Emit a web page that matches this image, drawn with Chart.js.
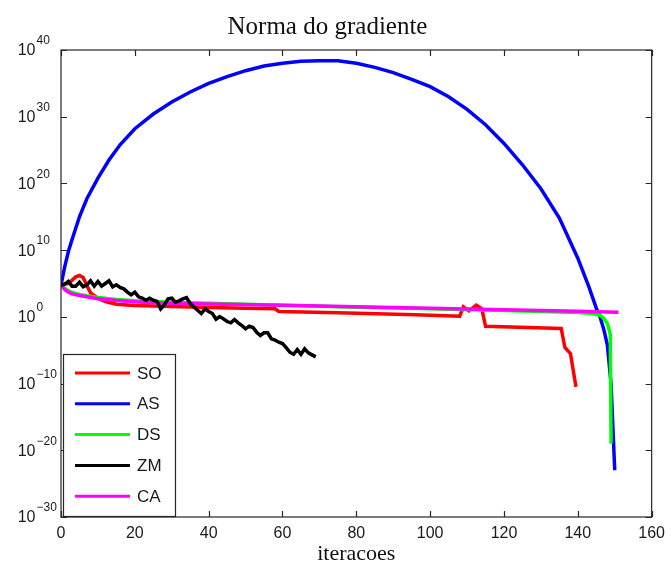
<!DOCTYPE html>
<html lang="pt">
<head>
    <meta charset="UTF-8">
    <title>Norma do gradiente</title>
    <script src="https://cdn.jsdelivr.net/npm/chart.js@4.4.1/dist/chart.umd.min.js"></script>
    <style>
        body { margin: 0; background: #fff; }
        canvas { display: block; }
    </style>
</head>
<body>
    <canvas id="grad" width="672" height="568"></canvas>

    <script>
        // valores: iteracao e expoente (log10 da norma)
        const soIter = [0, 2, 4, 5, 6, 7, 8, 10, 12, 15, 20, 30, 40, 50, 58, 59, 75, 96, 108, 109, 110.5, 112.5, 114, 115, 135.5, 136.5, 138, 139.5];
        const soExp  = [4.75, 5.0, 6.0, 6.2, 5.9, 4.7, 3.6, 2.8, 2.3, 1.9, 1.7, 1.55, 1.4, 1.3, 1.2, 0.8, 0.6, 0.3, 0.1, 1.5, 0.9, 1.75, 1.2, -1.4, -1.75, -4.6, -5.5, -10.5];

        const asIter = [0, 1, 2, 3, 5, 7, 10, 13, 16, 20, 25, 30, 35, 40, 45, 50, 55, 60, 65, 70, 75, 80, 85, 90, 95, 100, 105, 110, 115, 120, 125, 130, 135, 140, 143, 145, 146, 147, 148, 149, 150];
        const asExp  = [4.75, 7.5, 9.8, 11.6, 15, 17.7, 20.8, 23.5, 25.8, 28.2, 30.4, 32.2, 33.7, 35, 36, 36.9, 37.6, 38, 38.3, 38.4, 38.4, 38, 37.4, 36.6, 35.6, 34.5, 33, 31.1, 28.8, 26, 22.8, 19.2, 14.8, 8.8, 4.5, 1.3, 0, -1.8, -4.2, -10, -23];

        const dsIter = [0, 1, 2, 3, 5, 7, 10, 15, 20, 30, 40, 60, 80, 100, 120, 140, 144, 146, 147, 148, 148.8, 149];
        const dsExp  = [4.75, 4.3, 3.9, 3.65, 3.35, 3.15, 2.9, 2.6, 2.4, 2.2, 2.05, 1.75, 1.45, 1.2, 0.95, 0.65, 0.5, 0.25, -0.2, -1.0, -2.6, -19];

        // ZM: uma entrada por iteracao (0..69)
        const zmExp = [4.75, 4.9, 5.3, 4.6, 4.6, 5.2, 4.5, 4.8, 5.4, 4.6,
                       5.3, 4.6, 5.0, 5.4, 4.5, 4.8, 4.4, 4.2, 3.7, 3.3,
                       3.7, 3.0, 2.8, 2.5, 2.8, 2.5, 2.3, 1.2, 1.8, 2.7,
                       2.8, 2.2, 2.4, 2.7, 2.9, 2.0, 1.5, 1.0, 0.5, 1.2,
                       0.8, 0.5, -0.35, 0.05, -0.3, -0.7, -0.9, -0.4, -0.9, -1.3,
                       -1.8, -1.4, -1.6, -2.3, -2.8, -2.4, -2.4, -3.3, -3.5, -3.8,
                       -4.0, -4.6, -5.3, -5.6, -4.9, -5.6, -4.8, -5.4, -5.7, -6.0];

        const caIter = [0, 1, 2, 3, 5, 7, 10, 15, 20, 25, 30, 40, 60, 80, 100, 120, 140, 151];
        const caExp  = [4.75, 4.1, 3.7, 3.45, 3.2, 3.0, 2.7, 2.45, 2.25, 2.1, 2.05, 1.92, 1.75, 1.5, 1.3, 1.05, 0.85, 0.7];

        const xTicks = [0, 20, 40, 60, 80, 100, 120, 140, 160];
        const yExps = [-30, -20, -10, 0, 10, 20, 30, 40];

        const axisFont = '"Liberation Sans", Arial, sans-serif';
        const serifFont = '"Liberation Serif", "Times New Roman", serif';

        function pts(xs, exps) {
            return exps.map((e, i) => ({ x: xs[i], y: Math.pow(10, e) }));
        }

        function serie(label, color, data, order) {
            return {
                label: label,
                data: data,
                borderColor: color,
                backgroundColor: color,
                borderWidth: 3.5,
                pointRadius: 0,
                tension: 0,
                fill: false,
                order: order
            };
        }

        // caixa, marcas internas, rotulos 10^n e legenda
        const matlabAxes = {
            id: 'matlabAxes',
            afterDatasetsDraw(chart) {
                const ctx = chart.ctx;
                const a = chart.chartArea;
                const xs = chart.scales.x, ys = chart.scales.y;
                ctx.save();
                ctx.strokeStyle = '#262626';
                ctx.lineWidth = 1.2;
                ctx.strokeRect(a.left, a.top, a.right - a.left, a.bottom - a.top);

                ctx.beginPath();
                xTicks.forEach(t => {
                    const px = Math.round(xs.getPixelForValue(t)) + 0.5;
                    ctx.moveTo(px, a.bottom); ctx.lineTo(px, a.bottom - 6);
                    ctx.moveTo(px, a.top); ctx.lineTo(px, a.top + 6);
                });
                yExps.forEach(e => {
                    const py = Math.round(ys.getPixelForValue(Math.pow(10, e))) + 0.5;
                    ctx.moveTo(a.left, py); ctx.lineTo(a.left + 6, py);
                    ctx.moveTo(a.right, py); ctx.lineTo(a.right - 6, py);
                });
                ctx.stroke();

                ctx.fillStyle = '#1a1a1a';
                yExps.forEach(e => {
                    const py = ys.getPixelForValue(Math.pow(10, e));
                    ctx.font = '16px ' + axisFont;
                    ctx.textAlign = 'right';
                    ctx.textBaseline = 'middle';
                    ctx.fillText('10', 35.5, py + 1);
                    ctx.font = '12px ' + axisFont;
                    ctx.textAlign = 'left';
                    ctx.fillText(e < 0 ? '\u2212' + Math.abs(e) : String(e), 36.5, py - 9);
                });

                // legenda
                const box = { left: 63, top: 354, width: 112, height: 162 };
                ctx.fillStyle = '#fff';
                ctx.fillRect(box.left, box.top, box.width, box.height);
                ctx.strokeStyle = '#262626';
                ctx.lineWidth = 1.2;
                ctx.strokeRect(box.left + 0.5, box.top + 0.5, box.width, box.height);
                chart.data.datasets.forEach((ds, i) => {
                    const y = box.top + 19 + i * 30.8;
                    ctx.strokeStyle = ds.borderColor;
                    ctx.lineWidth = 3;
                    ctx.beginPath();
                    ctx.moveTo(75, y); ctx.lineTo(130, y);
                    ctx.stroke();
                    ctx.fillStyle = '#1a1a1a';
                    ctx.font = '17px ' + axisFont;
                    ctx.textAlign = 'left';
                    ctx.textBaseline = 'middle';
                    ctx.fillText(ds.label, 137, y + 1);
                });
                ctx.restore();
            }
        };

        const chart = new Chart(document.getElementById('grad'), {
            type: 'line',
            data: {
                datasets: [
                    serie('SO', '#ff0000', pts(soIter, soExp), 4),
                    serie('AS', '#0000ff', pts(asIter, asExp), 3),
                    serie('DS', '#00ff00', pts(dsIter, dsExp), 2),
                    serie('ZM', '#000000', pts(zmExp.map((_, i) => i), zmExp), 0),
                    serie('CA', '#ff00ff', pts(caIter, caExp), 1)
                ]
            },
            options: {
                responsive: false,
                animation: false,
                devicePixelRatio: 1,
                layout: { padding: { top: 0, left: 0, right: 17, bottom: 0 } },
                plugins: {
                    legend: { display: false },
                    tooltip: { enabled: false },
                    title: {
                        display: true,
                        text: 'Norma do gradiente',
                        color: '#111',
                        font: { family: serifFont, size: 25, weight: 'normal' },
                        padding: { top: 12, bottom: 8 }
                    }
                },
                scales: {
                    x: {
                        type: 'linear',
                        min: 0,
                        max: 160,
                        afterBuildTicks: axis => { axis.ticks = xTicks.map(v => ({ value: v })); },
                        grid: { display: false, drawTicks: false },
                        border: { display: false },
                        ticks: {
                            color: '#1a1a1a',
                            font: { family: axisFont, size: 16 },
                            padding: 7,
                            maxRotation: 0
                        },
                        title: {
                            display: true,
                            text: 'iteracoes',
                            color: '#111',
                            font: { family: serifFont, size: 22 },
                            padding: { top: 0, bottom: 1 }
                        },
                        afterFit: axis => { axis.height = 51; }
                    },
                    y: {
                        type: 'logarithmic',
                        min: 1e-30,
                        max: 1e40,
                        grid: { display: false, drawTicks: false },
                        border: { display: false },
                        ticks: { display: false },
                        afterFit: axis => { axis.width = 61; }
                    }
                }
            },
            plugins: [matlabAxes]
        });
    </script>
</body>
</html>
